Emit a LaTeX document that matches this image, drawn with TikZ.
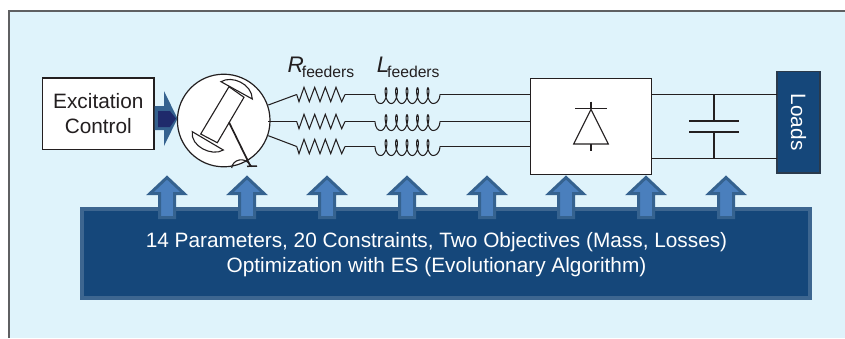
\documentclass[tikz,border=0pt]{standalone}
\usepackage{fontspec}
\setmainfont{Liberation Sans}
\definecolor{bgblue}{HTML}{DFF3FB}
\definecolor{frameg}{HTML}{5F6062}
\definecolor{navy}{HTML}{15477A}
\definecolor{navyedge}{HTML}{3D6690}
\definecolor{arrowfill}{HTML}{4A7FBD}
\definecolor{arrowedge}{HTML}{35628F}
\definecolor{deepnavy}{HTML}{1F2A6B}
\definecolor{ink}{HTML}{231F20}
\newcommand{\mainsize}{\fontsize{20.8}{25.3}\selectfont}
\newcommand{\rsize}{\fontsize{22.5}{25}\selectfont}
\newcommand{\subsize}{\fontsize{15.7}{18}\selectfont}
\tikzset{
  wire/.style={draw=ink,line width=1.05pt},
  whitebox/.style={draw=ink,fill=white,line width=1.2pt,inner sep=0pt,align=center,text=ink},
  uparrow/.pic={
    \draw[fill=arrowfill,draw=arrowedge,line width=3pt,line join=miter]
      (-7.5,42) -- (-7.5,18) -- (-17,18) -- (0,2) -- (17,18) -- (7.5,18) -- (7.5,42) -- cycle;
  }
}
\begin{document}
\begin{tikzpicture}[x=1pt,y=-1pt]
\useasboundingbox (0,0) rectangle (845,338);
\fill[white] (0,0) rectangle (845,338);
\fill[bgblue] (9,11) rectangle (845,338);
\draw[frameg,line width=2pt] (9,338) -- (9,11) -- (845,11);

% excitation
\node[whitebox,minimum width=111.5pt,minimum height=71.5pt,font=\mainsize] (exc) at (98.3,113.7) {Excitation\\Control};

% excitation arrow
\fill[arrowedge] (exc.east |- 0,106) -- (164,106) -- (164,91) -- (177.5,118.5) -- (164,146) -- (164,130) -- (exc.east |- 0,130) -- cycle;
\fill[deepnavy] (158,111) -- (170,111) -- (176,118.5) -- (170,127) -- (158,127) -- cycle;

% generator
\node[circle,draw=ink,fill=white,line width=1.2pt,minimum size=92.6pt,inner sep=0pt] (gen) at (223.7,120.5) {};
\draw[ink,fill=white,line width=1.1pt] (229,86.7) -- (244,97.3) -- (217.3,142.7) -- (200.7,134) -- cycle;
\draw[ink,fill=white,line width=1.1pt] (221,81.7) .. controls (232,75) and (252,84) .. (252.3,99) -- cycle;
\draw[ink,fill=white,line width=1.1pt] (192.3,131.7) .. controls (190,146) and (212,157) .. (223.3,150) -- cycle;
\draw[ink,line width=1.7pt] (229,122.3) -- (250.7,166.7);
\draw[ink,line width=1.1pt] (231.7,168) .. controls (232,160) and (245,155) .. (251.7,166.7);
\draw[ink,line width=1.5pt] (247,166.3) -- (257,166);

% feeders
\foreach \n/\y/\sy in {a/94.5/105,b/121.5/121.5,c/146.5/135.7}{
  \coordinate (s\n) at (268.3,\sy);
  \coordinate (r\n) at (296.7,\y);
  \coordinate (m\n) at (345,\y);
  \coordinate (l\n) at (375,\y);
  \coordinate (k\n) at (440,\y);
  \coordinate (d\n) at (530.5,\y);
  \draw[wire] (s\n) -- (r\n);
  \begin{scope}[shift={(r\n)}]
    \draw[wire,line join=miter] (0,0) -- (2.3,7.2) -- (7.3,-7.2) -- (12.6,7.2) -- (18,-7.2) -- (23.3,7.2) -- (28.6,-7.2) -- (34,7.2) -- (39.3,-7.2) -- (45,7.2) -- (48.3,0);
  \end{scope}
  \draw[wire] (m\n) -- (l\n);
  \begin{scope}[shift={(l\n)}]
    \draw[wire] (0,0) .. controls (0.5,7) and (3,9) .. (5.75,9)
      -- plot[domain=0:1800,samples=241,smooth] ({5.75+0.029167*\x+3*sin(\x)},{1.15+7.85*cos(\x)})
      .. controls (61,9) and (64.5,7) .. (65,0);
  \end{scope}
  \draw[wire] (k\n) -- (d\n);
}

% labels
\node[anchor=base west,inner sep=0pt,text=ink,font=\rsize\itshape] (rl) at (287.3,72.7) {R};
\node[anchor=base west,inner sep=0pt,text=ink,font=\subsize] (rs) at (301.7,77.7) {feeders};
\node[anchor=base west,inner sep=0pt,text=ink,font=\rsize\itshape] (ll) at (376.7,72.7) {L};
\node[anchor=base west,inner sep=0pt,text=ink,font=\subsize] (ls) at (387,77.7) {feeders};

% rectifier
\node[whitebox,minimum width=121.7pt,minimum height=96pt] (conv) at (591,126.3) {};
\draw[ink,line width=1.1pt,line join=miter] (591,109.3) -- (573.7,144) -- (608.3,144) -- cycle;
\draw[ink,line width=1.1pt] (575,108.8) -- (606.7,108.8);
\draw[ink,line width=1.1pt] (591,101.7) -- (591,108.8);
\draw[ink,line width=1.1pt] (591,144) -- (591,151.3);

% loads
\node[draw=arrowedge!40!ink,fill=navy,line width=1.3pt,minimum width=43pt,minimum height=101.7pt,inner sep=0pt] (loads) at (798.5,122.2) {};
\node[rotate=-90,text=white,font=\mainsize,inner sep=0pt] (loadt) at (loads.center) {Loads};

% dc bus
\coordinate (t1) at (652,94.5);
\coordinate (t2) at (777,94.5);
\coordinate (b1) at (652,158.5);
\coordinate (b2) at (777,158.5);
\coordinate (ct) at (714,94.5);
\coordinate (cb) at (714,158.5);
\coordinate (p1) at (714,120.7);
\coordinate (p2) at (714,132);
\draw[wire] (t1) -- (t2);
\draw[wire] (b1) -- (b2);
\draw[wire] (ct) -- (p1);
\draw[wire] (p2) -- (cb);
\draw[ink,line width=1.7pt] (689.3,120.7) -- (739.3,120.7);
\draw[ink,line width=1.7pt] (689.3,132) -- (739.3,132);

% optimization block
\node[draw=navyedge,fill=navy,line width=4pt,minimum width=728pt,minimum height=89pt,inner sep=0pt] (opt) at (446.3,253) {};
\foreach \x in {167,247,327,407,487,566,646,726}{
  \pic at (\x,175.5) {uparrow};
}
\node[anchor=base,text=white,font=\mainsize,align=center,inner sep=0pt] (optt) at (436.5,272.3) {14 Parameters, 20 Constraints, Two Objectives (Mass, Losses)\\Optimization with ES (Evolutionary Algorithm)};
\end{tikzpicture}
\end{document}
